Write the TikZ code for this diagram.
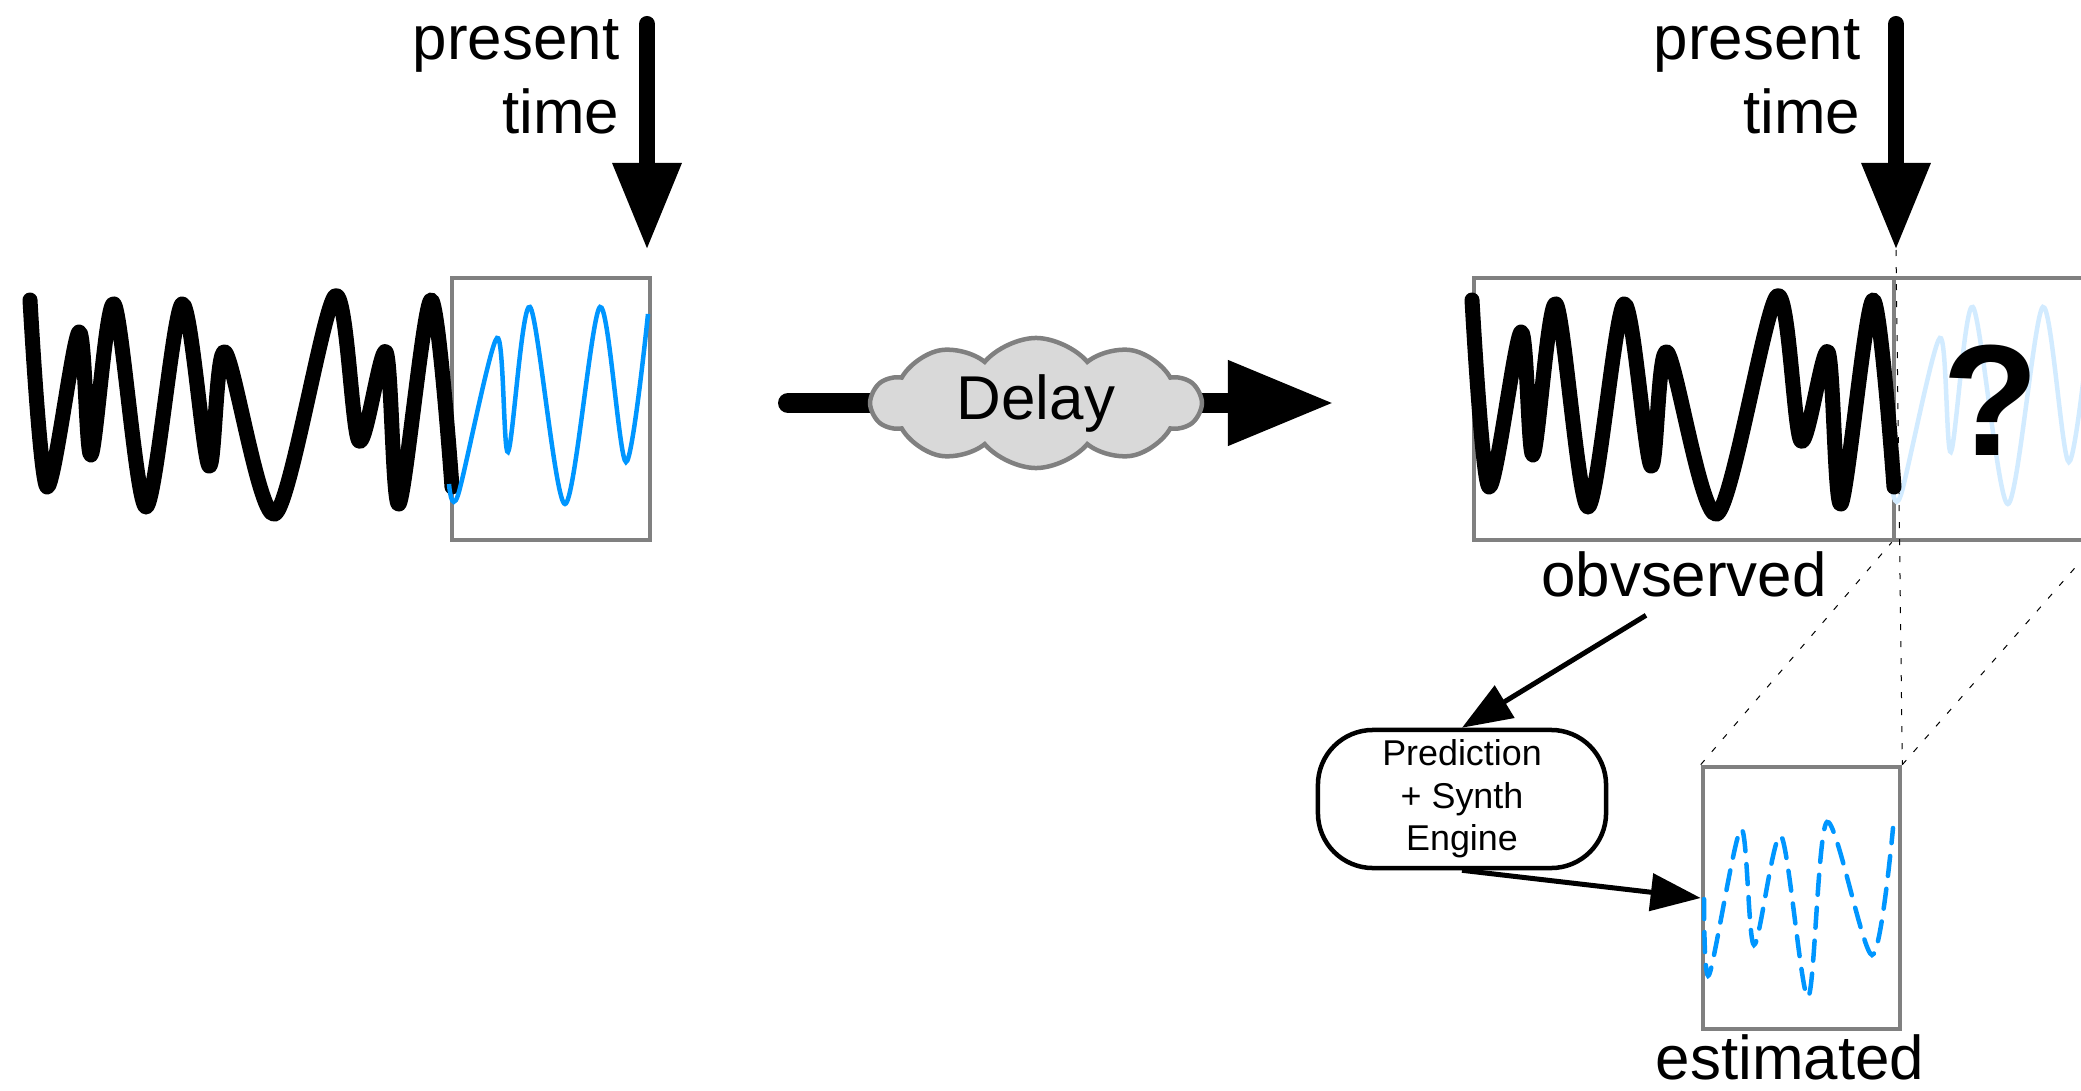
\documentclass[tikz,border=0pt]{standalone}
\usepackage{fontspec}
\setmainfont{Liberation Sans}
\usetikzlibrary{arrows.meta,shapes.symbols,shapes.misc,backgrounds}

\definecolor{waveblue}{RGB}{0,150,255}
\definecolor{paleblue}{RGB}{210,235,255}

\tikzset{frame/.style={draw=gray,line width=0.045cm,minimum height=2.62cm,inner sep=0pt},
         signal/.style={smooth,line width=0.15cm,line cap=round,line join=round},
         future/.style={smooth,line width=0.045cm,waveblue},
         guess/.style={smooth,line width=0.045cm,waveblue,line cap=round,dash pattern=on 0.2cm off 0.13cm},
         nowarrow/.style={line width=0.16cm,line cap=round,-{Triangle[length=0.87cm,width=0.65cm]}},
         flow/.style={line width=0.05cm,-{Triangle[length=0.5cm,width=0.37cm]}},
         guide/.style={line width=0.01cm,dash pattern=on 0.06cm off 0.11cm},
         lbl/.style={inner sep=0pt,font=\fontsize{17.6}{21.3}\selectfont}}

\begin{document}
\begin{tikzpicture}[x=0.01cm,y=-0.01cm]
                  \useasboundingbox (0,0) rectangle (2081,1091);
                  \node[frame,minimum width=1.98cm] (now) at (551,409) {};
                  \node[frame,minimum width=4.20cm] (obs) at (1684,409) {};
                  \node[frame,minimum width=2.01cm] (unk) at (1994.5,409) {};
                  \node[frame,minimum width=1.97cm] (est) at (1801.5,898) {};
                  \draw[future,paleblue,xshift=14.42cm] plot coordinates {(449,484) (458,495) (497,338) (508,452) (530,307) (565,504) (600,307) (626,462) (648,314)};
                  \foreach \dx in {0,1442}
                    \draw[signal,xshift=\dx*0.01cm] plot coordinates {(30,300) (47,487) (79,332) (91,455) (114,304) (146,507) (182,304) (209,466) (225,352) (275,514) (335,296) (359,441) (386,352) (399,504) (431,300) (452,487)};
                  \draw[future] plot coordinates {(449,484) (458,495) (497,338) (508,452) (530,307) (565,504) (600,307) (626,462) (648,314)};
                  \draw[guess] plot coordinates {(1704,899) (1709,975) (1741,829) (1754,945) (1781,836) (1808,997) (1827,822) (1872,955) (1893,828)};
                  \node[font=\fontsize{45}{50}\selectfont\bfseries,inner sep=0pt] (qmark) at (1991,400) {?};
                  \node[lbl,align=right,anchor=base east] (leftlbl) at (620,134) {present\\time};
                  \node[lbl,align=right,anchor=base east] (rightlbl) at (1861,134) {present\\time};
                  \coordinate (ltop) at (647,24);
                  \coordinate (ltip) at (647,250);
                  \coordinate (rtop) at (1896,24);
                  \coordinate (rtip) at (1896,250);
                  \draw[nowarrow] (ltop) -- (ltip);
                  \draw[nowarrow] (rtop) -- (rtip);
                  \node[cloud,cloud puffs=10,cloud puff arc=100,cloud ignores aspect,draw=gray,fill=gray!30,line width=0.045cm,
                        minimum width=3.28cm,minimum height=1.3cm,lbl] (delay) at (1036,403) {Delay};
                  \coordinate (din) at (788,403);
                  \coordinate (dout) at (1334,403);
                  \begin{scope}[on background layer]
                    \draw[line width=0.2cm,line cap=round] (din) -- (delay.center);
                    \draw[line width=0.2cm,-{Triangle[length=1.06cm,width=0.8cm]}] (delay.center) -- (dout);
                  \end{scope}
                  \node[lbl,anchor=base] (obslbl) at (1684,596) {obvserved};
                  \node[lbl,anchor=base] (estlbl) at (1790,1079) {estimated};
                  \node[draw,line width=0.045cm,rounded corners=0.55cm,minimum width=2.88cm,minimum height=1.38cm,
                        align=center,inner sep=0pt,font=\fontsize{10.2}{12.1}\selectfont] (pred) at (1462,799) {Prediction\\+ Synth\\Engine};
                  \draw[guide] (rtip) -- (est.north east);
                  \draw[guide] (est.north west) -- (unk.south west);
                  \draw[guide] (est.north east) -- (unk.south east);
                  \draw[flow] ([shift={(-38,18)}]obslbl.south) -- (pred.north);
                  \draw[flow] (pred.south) -- (est.west);
              \end{tikzpicture}
\end{document}
